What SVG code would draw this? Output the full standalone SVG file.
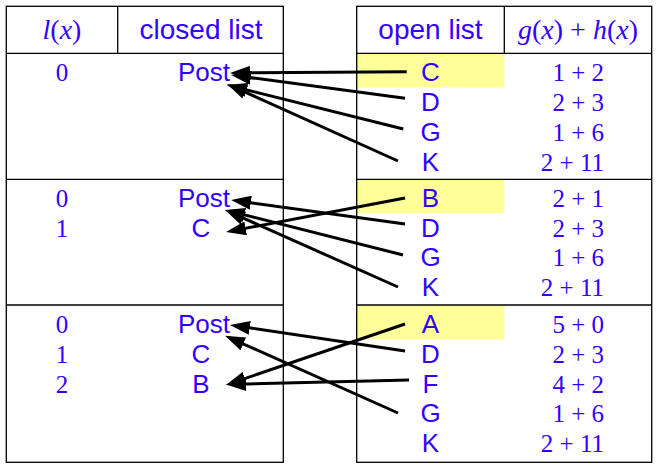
<svg xmlns="http://www.w3.org/2000/svg" width="660" height="471" viewBox="0 0 660 471">
<defs>
<style>
.bg{fill:#ffffff}
.hl{fill:#ffff99}
.grid{fill:none;stroke:#000;stroke-width:1.3}
.sans{font-family:"Liberation Sans",Arial,sans-serif;font-size:26px;fill:#3300ff;text-anchor:middle}
.hsans{font-family:"Liberation Sans",Arial,sans-serif;font-size:28px;fill:#3300ff;text-anchor:middle}
.ser{font-family:"Liberation Serif","Times New Roman",serif;font-size:25px;fill:#3300ff}
.hser{font-family:"Liberation Serif","Times New Roman",serif;font-size:28px;fill:#3300ff;text-anchor:middle}
.num{text-anchor:middle}
.val{text-anchor:end}
.arr{stroke:#000;stroke-width:3;fill:none;marker-end:url(#ah)}
</style>
<marker id="ah" markerUnits="userSpaceOnUse" markerWidth="20" markerHeight="14" viewBox="0 0 20 14" refX="15" refY="7" orient="auto">
<path d="M0,0 L20,7 L0,14 z" fill="#000"/>
</marker>
</defs>
<rect class="bg" x="0" y="0" width="660" height="471"/>

<g id="highlights">
<rect class="hl" x="356.7" y="53.3" width="147.6" height="34.4"/>
<rect class="hl" x="356.7" y="179.3" width="147.6" height="34"/>
<rect class="hl" x="356.7" y="305" width="147.6" height="34.3"/>
</g>

<g id="left-table">
<rect class="grid" x="6.3" y="6.3" width="277" height="456"/>
<line class="grid" x1="117.7" y1="6.3" x2="117.7" y2="53.3"/>
<line class="grid" x1="6.3" y1="53.3" x2="283.3" y2="53.3"/>
<line class="grid" x1="6.3" y1="179.3" x2="283.3" y2="179.3"/>
<line class="grid" x1="6.3" y1="305" x2="283.3" y2="305"/>
<text class="hser" x="62" y="38.5"><tspan font-style="italic">l</tspan>(<tspan font-style="italic">x</tspan>)</text>
<text class="hsans" x="201" y="38.5">closed list</text>
</g>

<g id="right-table">
<rect class="grid" x="356.7" y="6.3" width="295" height="456"/>
<line class="grid" x1="504.3" y1="6.3" x2="504.3" y2="53.3"/>
<line class="grid" x1="356.7" y1="53.3" x2="651.7" y2="53.3"/>
<line class="grid" x1="356.7" y1="179.3" x2="651.7" y2="179.3"/>
<line class="grid" x1="356.7" y1="305" x2="651.7" y2="305"/>
<text class="hsans" x="430.5" y="38.5">open list</text>
<text class="hser" x="578" y="38.5"><tspan font-style="italic">g</tspan>(<tspan font-style="italic">x</tspan>) + <tspan font-style="italic">h</tspan>(<tspan font-style="italic">x</tspan>)</text>
</g>

<g id="closed-1">
<text class="ser num" x="62" y="81">0</text>
<text class="sans" x="204" y="81">Post</text>
</g>
<g id="open-1">
<text class="sans" x="430.5" y="81">C</text>
<text class="sans" x="430.5" y="111">D</text>
<text class="sans" x="430.5" y="140.5">G</text>
<text class="sans" x="430.5" y="170.5">K</text>
<text class="ser val" x="604" y="81">1 + 2</text>
<text class="ser val" x="604" y="111">2 + 3</text>
<text class="ser val" x="604" y="140.5">1 + 6</text>
<text class="ser val" x="604" y="170.5">2 + 11</text>
</g>

<g id="closed-2">
<text class="ser num" x="62" y="206.5">0</text>
<text class="ser num" x="62" y="236.5">1</text>
<text class="sans" x="204" y="206.5">Post</text>
<text class="sans" x="201" y="236.5">C</text>
</g>
<g id="open-2">
<text class="sans" x="430.5" y="206.5">B</text>
<text class="sans" x="430.5" y="236.5">D</text>
<text class="sans" x="430.5" y="266">G</text>
<text class="sans" x="430.5" y="296">K</text>
<text class="ser val" x="604" y="206.5">2 + 1</text>
<text class="ser val" x="604" y="236.5">2 + 3</text>
<text class="ser val" x="604" y="266">1 + 6</text>
<text class="ser val" x="604" y="296">2 + 11</text>
</g>

<g id="closed-3">
<text class="ser num" x="62" y="332.5">0</text>
<text class="ser num" x="62" y="362.5">1</text>
<text class="ser num" x="62" y="392.5">2</text>
<text class="sans" x="204" y="332.5">Post</text>
<text class="sans" x="201" y="362.5">C</text>
<text class="sans" x="201" y="392.5">B</text>
</g>
<g id="open-3">
<text class="sans" x="430.5" y="332.5">A</text>
<text class="sans" x="430.5" y="362.5">D</text>
<text class="sans" x="430.5" y="392.5">F</text>
<text class="sans" x="430.5" y="422">G</text>
<text class="sans" x="430.5" y="452">K</text>
<text class="ser val" x="604" y="332.5">5 + 0</text>
<text class="ser val" x="604" y="362.5">2 + 3</text>
<text class="ser val" x="604" y="392.5">4 + 2</text>
<text class="ser val" x="604" y="422">1 + 6</text>
<text class="ser val" x="604" y="452">2 + 11</text>
</g>

<g id="connectors">
<line class="arr" x1="406.7" y1="71.7" x2="235" y2="73"/>
<line class="arr" x1="405" y1="98.3" x2="236" y2="75.7"/>
<line class="arr" x1="403.3" y1="129" x2="231.9" y2="86.2"/>
<line class="arr" x1="398" y1="161" x2="231.6" y2="86"/>

<line class="arr" x1="405" y1="198" x2="230.9" y2="231.1"/>
<line class="arr" x1="405" y1="224" x2="236" y2="200.7"/>
<line class="arr" x1="403" y1="255" x2="229.8" y2="211.2"/>
<line class="arr" x1="398" y1="287" x2="229.6" y2="212"/>

<line class="arr" x1="405" y1="324" x2="230.7" y2="383.4"/>
<line class="arr" x1="405" y1="351" x2="234.9" y2="325.7"/>
<line class="arr" x1="409" y1="380" x2="231" y2="384.4"/>
<line class="arr" x1="398" y1="413" x2="229.6" y2="337.8"/>
</g>
</svg>
